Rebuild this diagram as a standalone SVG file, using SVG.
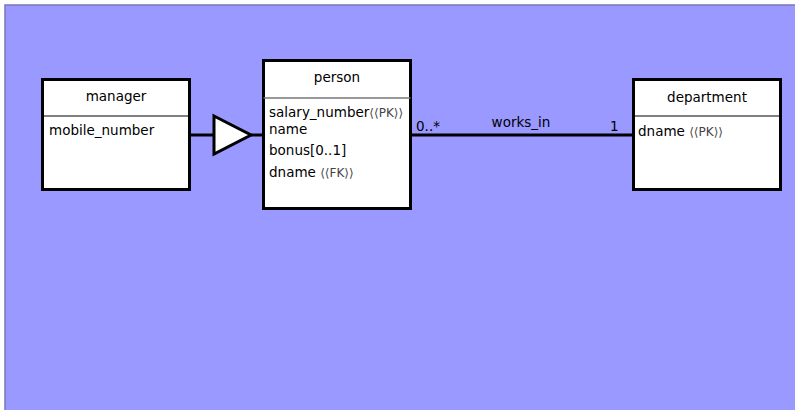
<svg xmlns="http://www.w3.org/2000/svg" width="795" height="410" viewBox="0 0 795 410">
<style>
.bg{fill:#9999ff;stroke:#7777bb;stroke-width:1.5}
.box{fill:#ffffff;stroke:#000000;stroke-width:3}
.div{stroke:#000000;stroke-width:1}
.divg{stroke:#777777;stroke-width:1.5}
text{font-family:"DejaVu Sans","Liberation Sans",sans-serif;font-size:13.5px;fill:#000000}
.c{text-anchor:middle}
.st{font-size:12px;fill:#444444}
.line{stroke:#000000;stroke-width:3;fill:none}
</style>
<rect class="bg" x="5" y="5" width="800" height="415"/>
<g id="connectors">
<line class="line" x1="189" y1="135" x2="214" y2="135"/>
<polygon points="214,116 251,135 214,154" fill="#ffffff" stroke="#000000" stroke-width="3"/>
<line class="line" x1="251" y1="135" x2="263" y2="135"/>
<line class="line" x1="411" y1="135" x2="633" y2="135"/>
<text x="416" y="131">0..*</text>
<text class="c" x="521" y="127">works_in</text>
<text x="610" y="131">1</text>
</g>
<g id="manager">
<rect class="box" x="42.5" y="79.5" width="147" height="110"/>
<line class="div" x1="42.5" y1="116" x2="189.5" y2="116"/>
<text class="c" x="116" y="101">manager</text>
<text x="49" y="135">mobile_number</text>
</g>
<g id="person">
<rect class="box" x="263.5" y="60.5" width="147" height="148"/>
<line class="divg" x1="263.5" y1="98" x2="410.5" y2="98"/>
<text class="c" x="337" y="82">person</text>
<text x="269" y="117">salary_number<tspan class="st">⟨⟨PK⟩⟩</tspan></text>
<text x="269" y="134">name</text>
<text x="269" y="155">bonus[0..1]</text>
<text x="269" y="177">dname <tspan class="st">⟨⟨FK⟩⟩</tspan></text>
</g>
<g id="department">
<rect class="box" x="633.5" y="79.5" width="147" height="110"/>
<line class="div" x1="633.5" y1="116" x2="780.5" y2="116"/>
<text class="c" x="707" y="102">department</text>
<text x="638" y="136">dname <tspan class="st">⟨⟨PK⟩⟩</tspan></text>
</g>
</svg>
